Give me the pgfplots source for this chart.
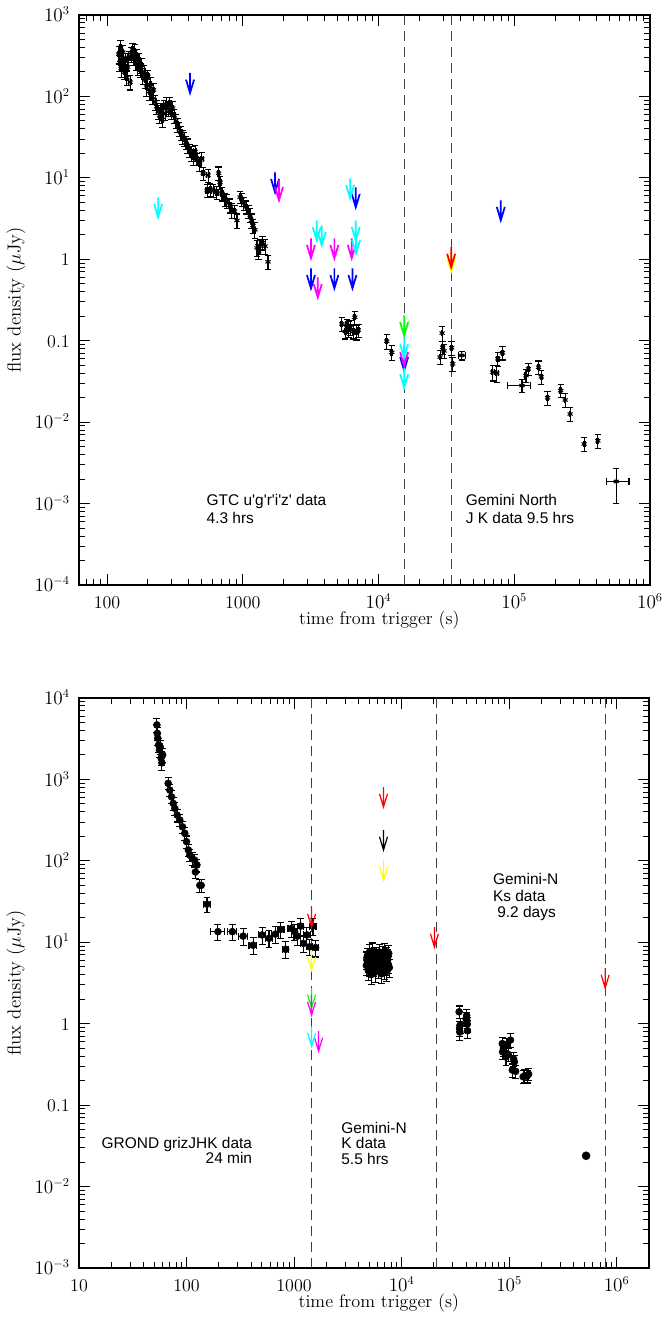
\documentclass[border=0pt]{standalone}
\usepackage{pgfplots}
\pgfplotsset{compat=1.18}
\usepackage{fontspec}
\newfontfamily\annot{Liberation Sans}

\definecolor{pblue}{rgb}{0,0,1}
\definecolor{pcyan}{rgb}{0,1,1}
\definecolor{pmag}{rgb}{1,0,1}
\definecolor{pgreen}{rgb}{0,1,0}
\definecolor{pred}{rgb}{1,0,0}
\definecolor{pyel}{rgb}{1,1,0}

% upper limit: vertical stroke with an open V head
\pgfdeclareplotmark{ulim}{%
  \pgfpathmoveto{\pgfpoint{0pt}{0pt}}%
  \pgfpathlineto{\pgfpoint{0pt}{-15pt}}%
  \pgfpathmoveto{\pgfpoint{-3pt}{-5pt}}%
  \pgfpathlineto{\pgfpoint{0pt}{-15pt}}%
  \pgfpathlineto{\pgfpoint{3pt}{-5pt}}%
  \pgfusepathqstroke}

\pgfplotsset{
  errs/.style={
    error bars/x dir=both, error bars/x explicit,
    error bars/y dir=both, error bars/y explicit,
    error bars/error bar style={black, line width=0.8pt},
    error bars/error mark options={black, rotate=90, line width=0.8pt, mark size=#1},
  },
  errs/.default=2.4pt,
  yerrs/.style={
    error bars/y dir=both, error bars/y explicit,
    error bars/error bar style={black, line width=0.8pt},
    error bars/error mark options={black, rotate=90, line width=0.8pt, mark size=2.6pt},
  },
  vline/.style={black!75, line width=0.8pt, dash pattern=on 7.5pt off 4.5pt},
  lim/.style={only marks, mark=ulim, mark options={line width=1.3pt}},
  limb/.style={only marks, mark=ulim, mark options={line width=0.9pt}},
}

\begin{document}
\begin{tikzpicture}
\useasboundingbox (0,0) rectangle (499.5pt,990.75pt);

% ---------------- top panel ----------------
\begin{axis}[
  scale only axis, xmode=log, ymode=log,
  at={(59.25pt,552pt)}, anchor=south west,
  width=428.25pt, height=427.5pt,
  xmin=62.2, xmax=1e6, ymin=1e-4, ymax=1e3,
  tick align=inside,
  major tick length=8pt, minor tick length=4.5pt,
  tick style={black, line width=0.7pt},
  axis line style={line width=1.1pt},
  tick label style={font=\fontsize{13.5}{16}\selectfont},
  xticklabel style={anchor=base, inner sep=0pt, yshift=-17.5pt},
  yticklabel style={anchor=base east, inner sep=0pt, xshift=-6.75pt, yshift=-5pt},
  every axis x label/.style={at={(axis description cs:0.526,-0.062)}, anchor=center, inner sep=0pt,
    font=\fontsize{13.6}{16}\selectfont},
  every axis y label/.style={at={(axis description cs:-0.1105,0.5)}, anchor=center, rotate=90,
    font=\fontsize{14.2}{16}\selectfont},
  xlabel={time from trigger (s)},
  ylabel={flux density ($\mu$Jy)},
  xtick={100,1000,10000,100000,1000000},
  xticklabels={100,1000,$10^4$,$10^5$,$10^6$},
  minor xtick={70,80,90,200,300,400,500,600,700,800,900,2000,3000,4000,5000,6000,7000,8000,9000,
    20000,30000,40000,50000,60000,70000,80000,90000,200000,300000,400000,500000,600000,700000,800000,900000},
  ytick={1e-4,1e-3,1e-2,0.1,1,10,100,1000},
  yticklabels={$10^{-4}$,$10^{-3}$,$10^{-2}$,0.1,1,$10^1$,$10^2$,$10^3$},
  minor ytick={2e-4,3e-4,4e-4,5e-4,6e-4,7e-4,8e-4,9e-4,2e-3,3e-3,4e-3,5e-3,6e-3,7e-3,8e-3,9e-3,
    0.02,0.03,0.04,0.05,0.06,0.07,0.08,0.09,0.2,0.3,0.4,0.5,0.6,0.7,0.8,0.9,
    2,3,4,5,6,7,8,9,20,30,40,50,60,70,80,90,200,300,400,500,600,700,800,900},
]
\addplot[vline] coordinates {(15480,1e-4) (15480,1e3)};
\addplot[vline] coordinates {(34300,1e-4) (34300,1e3)};

\addplot[only marks, mark=asterisk, mark size=2.2pt, black, mark options={line width=0.8pt}, errs]
coordinates {
 (122,330) +- (2,80)   (124,260) +- (2,60)   (126,400) +- (2,80)   (127,220) +- (2,50)
 (129,300) +- (2,60)   (131,350) +- (2,70)   (133,250) +- (2,50)   (135,200) +- (2,40)
 (137,280) +- (2,60)   (140,170) +- (2,35)   (142,230) +- (3,50)   (145,300) +- (3,60)
 (148,150) +- (3,30)   (151,330) +- (3,70)   (154,380) +- (3,70)   (157,300) +- (3,60)
 (160,360) +- (3,70)   (163,260) +- (3,50)   (166,320) +- (3,60)   (169,230) +- (3,50)
 (172,280) +- (3,60)   (176,210) +- (3,40)   (180,240) +- (4,50)   (184,180) +- (4,40)
 (188,200) +- (4,40)   (192,160) +- (4,35)   (196,130) +- (4,30)   (200,175) +- (4,35)
 (205,115) +- (4,25)   (210,140) +- (4,30)   (215,100) +- (4,20)   (220,120) +- (5,25)
 (226,85) +- (5,18)    (232,75) +- (5,15)    (238,65) +- (5,13)    (244,58) +- (5,12)
 (250,68) +- (5,14)    (256,52) +- (5,10)    (262,75) +- (5,15)    (268,62) +- (6,12)
 (275,80) +- (6,16)    (282,70) +- (6,14)    (290,82) +- (6,16)    (297,65) +- (6,13)
 (305,72) +- (6,14)    (313,58) +- (6,12)    (322,50) +- (7,10)    (331,45) +- (7,9)
 (340,40) +- (7,8)     (350,36) +- (7,7)     (360,32) +- (7,6)     (370,30) +- (8,6)
 (380,27) +- (8,5)     (392,25) +- (8,5)     (405,22) +- (8,4)     (418,20) +- (9,4)
 (432,18) +- (9,4)     (446,21) +- (9,4)     (460,17) +- (9,3)     (480,15) +- (10,3)
 (500,17) +- (10,3.5)
 (511,11.4) +- (10,2)  (546,7.0) +- (10,1.3) (555,10.8) +- (10,2)  (575,7.2) +- (10,1.3)
 (605,7.0) +- (12,1.3) (645,6.6) +- (12,1.2) (665,11.4) +- (12,2.2) (680,8.8) +- (12,1.7)
 (703,6.4) +- (12,1.2) (740,5.5) +- (12,1.0) (765,5.2) +- (12,1.0) (805,4.6) +- (14,0.9)
 (830,4.0) +- (14,0.8) (870,3.9) +- (14,0.7) (907,3.0) +- (14,0.6) (955,5.8) +- (15,1.0)
 (985,5.4) +- (15,1.0) (1020,4.9) +- (15,0.9) (1060,4.4) +- (15,0.8) (1100,3.9) +- (15,0.7)
 (1132,3.5) +- (15,0.7) (1160,3.0) +- (15,0.6) (1190,2.6) +- (15,0.5) (1230,2.3) +- (15,0.5)
 (1274,1.38) +- (15,0.3) (1310,1.25) +- (15,0.25) (1340,1.45) +- (15,0.3) (1400,1.6) +- (15,0.3)
 (1460,1.45) +- (15,0.3) (1535,0.93) +- (15,0.18)
 (5370,0.161) +- (100,0.03) (5680,0.13) +- (100,0.025) (5850,0.154) +- (100,0.03)
 (6000,0.14) +- (100,0.03) (6200,0.146) +- (100,0.03) (6500,0.13) +- (100,0.025)
 (6700,0.194) +- (100,0.035) (6900,0.127) +- (100,0.025) (7100,0.135) +- (100,0.025)
 (11500,0.0986) +- (200,0.02) (12530,0.072) +- (200,0.015)
 (28400,0.063) +- (400,0.012) (29400,0.124) +- (400,0.025) (29700,0.083) +- (400,0.016)
 (30400,0.075) +- (400,0.015) (34600,0.082) +- (400,0.016) (35200,0.052) +- (400,0.01)
 (41100,0.066) +- (2300,0.008)
 (69500,0.041) +- (1500,0.009) (74500,0.040) +- (1500,0.009) (75700,0.060) +- (1500,0.012)
 (81900,0.071) +- (1500,0.013)
 (122000,0.0373) +- (2000,0.007) (127000,0.045) +- (2000,0.008)
 (151000,0.0473) +- (2500,0.009) (158000,0.036) +- (2500,0.007) (176000,0.0199) +- (3000,0.004)
 (220000,0.0244) +- (3000,0.0045) (237000,0.0187) +- (3000,0.0035) (258000,0.0126) +- (3000,0.0025)
 (327000,0.0054) +- (5000,0.001) (413000,0.0059) +- (7000,0.0011)
};
\addplot[only marks, mark=asterisk, mark size=2.2pt, black, mark options={line width=0.8pt}, errs]
coordinates {
 (114000,0.0281) += (18000,0.005) -= (25000,0.005)
 (564000,0.00187) += (136000,0.00086) -= (84000,0.00088)
};

% upper limits
\addplot[lim, color=pblue] coordinates {
 (409,194) (1730,11.7) (6800,7.66) (3180,0.773) (4730,0.773) (6430,0.773) (79600,5.3) (15450,0.0759)};
\addplot[lim, color=pmag] coordinates {
 (1850,9.33) (3180,1.81) (4730,1.81) (6350,1.81) (3570,0.599) (15450,0.0873)};
\addplot[lim, color=pcyan] coordinates {
 (238,5.77) (6180,9.88) (3510,3.0) (3820,2.61) (6800,3.0) (6840,2.08) (15450,0.109) (15450,0.0468)};
\addplot[lim, color=pgreen] coordinates {(15450,0.204)};
\addplot[lim, color=pyel] coordinates {(34300,1.25)};
\addplot[lim, color=pred] coordinates {(34300,1.41)};

\node[anchor=west, align=left, font=\annot\fontsize{11.6}{13}\selectfont]
  at (axis cs:501,8.6e-4) {GTC u\char"27 g\char"27 r\char"27 i\char"27 z\char"27\ data\\4.3 hrs};
\node[anchor=west, align=left, font=\annot\fontsize{11.6}{13}\selectfont]
  at (axis cs:40600,8.6e-4) {Gemini North\\J K data 9.5 hrs};
\end{axis}

% ---------------- bottom panel ----------------
\begin{axis}[
  scale only axis, xmode=log, ymode=log,
  at={(59.25pt,39.75pt)}, anchor=south west,
  width=427.5pt, height=427.5pt,
  xmin=10, xmax=2e6, ymin=1e-3, ymax=1e4,
  tick align=inside,
  major tick length=8pt, minor tick length=4.5pt,
  tick style={black, line width=0.7pt},
  axis line style={line width=1.1pt},
  tick label style={font=\fontsize{13.5}{16}\selectfont},
  xticklabel style={anchor=base, inner sep=0pt, yshift=-17.5pt},
  yticklabel style={anchor=base east, inner sep=0pt, xshift=-6.75pt, yshift=-5pt},
  every axis x label/.style={at={(axis description cs:0.526,-0.062)}, anchor=center, inner sep=0pt,
    font=\fontsize{13.6}{16}\selectfont},
  every axis y label/.style={at={(axis description cs:-0.1105,0.5)}, anchor=center, rotate=90,
    font=\fontsize{14.2}{16}\selectfont},
  xlabel={time from trigger (s)},
  ylabel={flux density ($\mu$Jy)},
  xtick={10,100,1000,10000,100000,1000000},
  xticklabels={10,100,1000,$10^4$,$10^5$,$10^6$},
  minor xtick={20,30,40,50,60,70,80,90,200,300,400,500,600,700,800,900,2000,3000,4000,5000,6000,7000,8000,9000,
    20000,30000,40000,50000,60000,70000,80000,90000,200000,300000,400000,500000,600000,700000,800000,900000},
  ytick={1e-3,1e-2,0.1,1,10,100,1000,10000},
  yticklabels={$10^{-3}$,$10^{-2}$,0.1,1,$10^1$,$10^2$,$10^3$,$10^4$},
  minor ytick={2e-3,3e-3,4e-3,5e-3,6e-3,7e-3,8e-3,9e-3,
    0.02,0.03,0.04,0.05,0.06,0.07,0.08,0.09,0.2,0.3,0.4,0.5,0.6,0.7,0.8,0.9,
    2,3,4,5,6,7,8,9,20,30,40,50,60,70,80,90,200,300,400,500,600,700,800,900,
    2000,3000,4000,5000,6000,7000,8000,9000},
]
\addplot[vline] coordinates {(1440,1e-3) (1440,1e4)};
\addplot[vline] coordinates {(21240,1e-3) (21240,1e4)};
\addplot[vline] coordinates {(794880,1e-3) (794880,1e4)};

\addplot[only marks, mark=*, mark size=2.6pt, black, yerrs] coordinates {
 (53,4670) +- (0,900) (53.5,3680) +- (0,700) (54,3200) +- (0,600) (55,2650) +- (0,500)
 (56,2300) +- (0,450) (57,2500) +- (0,480) (58,1830) +- (0,350) (59,1600) +- (0,300)
 (60,2000) +- (0,380)
 (67.5,895) +- (0,150) (70,740) +- (0,130) (72.5,612) +- (0,110) (75.2,508) +- (0,90)
 (77.8,441) +- (0,80) (81.8,365) +- (0,65) (86.6,317) +- (0,55) (91.7,262) +- (0,45)
 (96.4,218) +- (0,38) (100,172) +- (0,30) (104,136) +- (0,24) (107,118) +- (0,21)
 (113,107) +- (0,19) (119,102) +- (0,18) (125,89) +- (0,16) (121,73) +- (0,13)
 (133,50) +- (0,9) (137,50) +- (0,9)
 (34300,1.40) +- (0,0.25) (34600,0.875) +- (0,0.18) (34800,0.79) +- (0,0.16)
 (35000,0.96) +- (0,0.2) (39800,1.15) +- (0,0.22) (40300,1.26) +- (0,0.24)
 (40600,1.09) +- (0,0.21) (40800,0.99) +- (0,0.2) (41000,0.82) +- (0,0.17)
 (86500,0.57) +- (0,0.11) (87000,0.45) +- (0,0.09) (88500,0.50) +- (0,0.1)
 (93500,0.39) +- (0,0.08) (95500,0.54) +- (0,0.11) (98000,0.42) +- (0,0.08)
 (103000,0.63) +- (0,0.12) (107000,0.27) +- (0,0.05) (110000,0.37) +- (0,0.07)
 (112000,0.34) +- (0,0.07) (115000,0.26) +- (0,0.05) (135000,0.223) +- (0,0.04)
 (140000,0.23) +- (0,0.04) (147000,0.227) +- (0,0.04) (152000,0.24) +- (0,0.04)
 (4700,5.2) +- (0,1.3) (4750,6.1) +- (0,1.5) (4800,6.8) +- (0,1.7) (4900,4.5) +- (0,1.1)
 (5000,7.5) +- (0,1.8) (5050,5.0) +- (0,1.2) (5100,5.8) +- (0,1.4) (5200,4.0) +- (0,1.0)
 (5300,6.3) +- (0,1.5) (5400,7.9) +- (0,1.9) (5500,5.0) +- (0,1.2) (5600,6.0) +- (0,1.5)
 (5650,6.9) +- (0,1.7) (5700,4.3) +- (0,1.1) (5800,7.0) +- (0,1.7) (5900,5.5) +- (0,1.3)
 (6000,6.6) +- (0,1.6) (6100,4.8) +- (0,1.2) (6200,7.6) +- (0,1.8) (6250,5.9) +- (0,1.4)
 (6300,5.3) +- (0,1.3) (6400,6.1) +- (0,1.5) (6500,4.1) +- (0,1.0) (6600,7.2) +- (0,1.7)
 (6700,5.7) +- (0,1.4) (6800,6.4) +- (0,1.6) (6850,5.2) +- (0,1.3) (6900,4.6) +- (0,1.1)
 (7000,7.8) +- (0,1.9) (7100,5.1) +- (0,1.2) (7200,6.9) +- (0,1.7) (7300,4.4) +- (0,1.1)
 (7400,6.0) +- (0,1.5) (7450,6.6) +- (0,1.6) (7500,5.4) +- (0,1.3) (7600,7.3) +- (0,1.8)
 (7700,4.9) +- (0,1.2)
};
\addplot[only marks, mark=*, mark size=2.6pt, black, errs=2.6pt] coordinates {
 (155,29.4) +- (12,6)
 (196,13.5) +- (28,3.1) (267,13.5) +- (27,3.1) (336,11.9) +- (30,2.7) (416,9.2) +- (35,2.1)
 (504,12.3) +- (40,2.8) (585,11.2) +- (45,2.6) (670,12.6) +- (50,2.9) (751,14.4) +- (55,3.3)
 (836,8.2) +- (60,1.9) (943,14.8) +- (65,3.4) (1014,13.5) +- (70,3.1) (1073,11.9) +- (75,2.7)
 (1150,15.8) +- (80,3.6) (1227,9.7) +- (85,2.2) (1318,12.3) +- (90,2.8) (1396,8.8) +- (95,2.0)
 (1500,15.8) +- (100,3.6) (1586,8.6) +- (110,2.0)
};
\addplot[only marks, mark=*, mark size=3pt, black] coordinates {(520000,0.0239)};

% upper limits
\addplot[limb, color=pred] coordinates {(1456,27.1) (6790,807) (20200,15.4) (782000,4.82)};
\addplot[limb, color=black] coordinates {(6790,239)};
\addplot[limb, color=pyel] coordinates {(1456,8.0) (6790,102)};
\addplot[limb, color=pgreen] coordinates {(1456,2.74)};
\addplot[limb, color=pmag] coordinates {(1456,2.24) (1690,0.81)};
\addplot[limb, color=pcyan] coordinates {(1456,0.93)};

\node[anchor=west, align=right, font=\annot\fontsize{11.6}{11}\selectfont]
  at (axis cs:14.7,0.028) {GROND grizJHK data\\24 min};
\node[anchor=west, align=left, font=\annot\fontsize{11.6}{11.6}\selectfont]
  at (axis cs:2490,0.034) {Gemini-N\\K data\\5.5 hrs};
\node[anchor=west, align=left, font=\annot\fontsize{11.6}{12.4}\selectfont]
  at (axis cs:64100,35.9) {Gemini-N\\Ks data\\\ 9.2 days};
\end{axis}
\end{tikzpicture}
\end{document}
